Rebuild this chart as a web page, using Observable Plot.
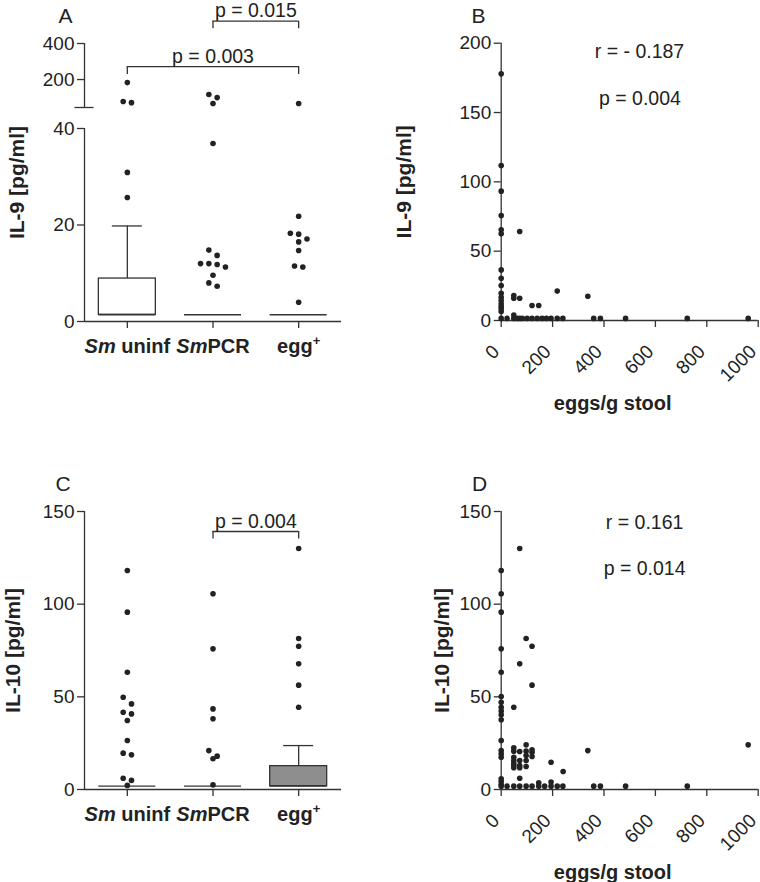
<!DOCTYPE html>
<html><head><meta charset="utf-8">
<script src="https://cdn.jsdelivr.net/npm/d3@7"></script>
<script src="https://cdn.jsdelivr.net/npm/@observablehq/plot@0.6"></script>
<style>
body{margin:0;background:#fff;}
#fig{position:relative;width:760px;height:882px;overflow:hidden;}
.panel{position:absolute;}
.panel svg{overflow:visible;}
</style></head><body><div id="fig"></div>
<script>
// ---------------- data ----------------
const groups = ["Sm uninf", "SmPCR", "egg+"];

// Panel A: IL-9 [pg/ml] per group (broken axis 0–40 | 45–400)
const il9Uninf = [183, 78, 72, 30.9, 25.7];
const il9PCR = [117, 100, 67, 36.9, 14.8, 13.7, 12.0, 12.0, 11.8, 11.3, 9.6, 8.0, 7.3];
const il9Egg = [67, 21.8, 18.3, 18.1, 17.1, 16.5, 14.7, 11.5, 11.3, 4.0];
const il9BoxLow = [1.4, 1.4, 1.4];
const il9BoxMedian = [1.4, 1.4, 1.4];
const il9BoxHigh = [8.9, 1.4, 1.4];
const il9WhiskerHigh = [19.8, null, null];
const il9Domain = [0, 40, 45, 400];
const il9Ticks = [0, 20, 40, 200, 400];
const il9BracketFrom = [1, 0];
const il9BracketTo = [2, 2];
const il9BracketLevel = [524, 272];
const il9BracketFoot = [482, 228];
const il9BracketLabel = ["p = 0.015", "p = 0.003"];

// Panel C: IL-10 [pg/ml] per group
const il10Uninf = [118.2, 95.7, 63.3, 49.8, 46.2, 41.7, 40.8, 37.2, 26.4, 19.6, 18.7, 6.1, 4.9, 2.2];
const il10PCR = [105.6, 75.9, 43.5, 38.2, 21.0, 18.0, 16.6, 2.5];
const il10Egg = [130, 81.5, 77.3, 67.8, 56.3, 44.4];
const il10BoxLow = [1.8, 1.8, 1.8];
const il10BoxMedian = [1.8, 1.8, 1.8];
const il10BoxHigh = [1.8, 1.8, 12.6];
const il10WhiskerHigh = [null, null, 23.7];
const il10Domain = [0, 150];
const il10Ticks = [0, 50, 100, 150];
const il10BracketFrom = [1];
const il10BracketTo = [2];
const il10BracketLevel = [139.2];
const il10BracketFoot = [135.2];
const il10BracketLabel = ["p = 0.004"];

// Panel B: IL-9 vs eggs/g stool
const eggsB = [0,0,0,0,0,0,0,0,0,0,0,0,0,0,0,0,0,
  72,72,49,49,49,120,146,218,337,
  23,49,62,72,82,101,120,140,159,176,194,218,240,360,386,484,724,961];
const il9B = [177.9,111.8,93.3,75.7,65.4,62.5,36.5,30.5,25.2,19.7,16.8,14.4,12.0,10.1,8.4,6.5,1.5,
  64.2,16,18,16,4,10.8,10.8,21.2,17.5,
  1.5,1.5,1.5,1.5,1.5,1.5,1.5,1.5,1.5,1.5,1.5,1.5,1.5,1.5,1.5,1.5,1.5,1.5];
const statsB = ["r = - 0.187", "p = 0.004"];
const statsBx = [538, 540];
const statsBy = [193.5, 160];

// Panel D: IL-10 vs eggs/g stool
const eggsD = [0,0,0,0,0,0,0,0,0,0,0,0,0,0,0,0,0,0,0,
  72,72,97,120,120,49,
  49,49,49,49,49,49,49,
  72,72,72,72,72,
  97,97,97,97,97,
  120,120,120,
  194,241,337,961,146,194,
  23,49,72,97,120,146,169,194,218,240,360,386,484,724];
const il10D = [118.2,105.6,95.7,75.9,63.3,50.2,47.1,44.4,42.3,40.3,37.6,26.4,21.0,19.2,17.4,5.8,4.3,2.7,1.8,
  130,67.8,81.5,77.3,56.3,44.4,
  22.5,20.7,17.4,15.6,14.2,12.9,11.7,
  20.5,15.6,12.9,11.7,6.1,
  24.1,20.7,18.3,15.6,12.4,
  21.4,20.1,17.8,
  14.7,9.7,21.0,24.1,3.6,4.0,
  1.8,1.8,1.8,1.8,1.8,1.8,1.8,1.8,1.8,1.8,1.8,1.8,1.8,1.8];
const statsD = ["r = 0.161", "p = 0.014"];
const statsDx = [558, 558];
const statsDy = [144, 119];

const eggTicks = [0, 200, 400, 600, 800, 1000];
const eggDomain = [0, 1000];
const il9BDomain = [0, 200];
const il9BTicks = [0, 50, 100, 150, 200];

// ---------------- style ----------------
const FONT = '"Liberation Sans", Arial, Helvetica, sans-serif';
const INK = "#222";
const LINE = "#333";
const TICK_FS = 19, TITLE_FS = 21, XTITLE_FS = 20, TEXT_FS = 19.5, LETTER_FS = 21;
const DOT_R = 2.8;

// ---------------- helpers ----------------
function swarm(values, yScale, gi, pxPerUnit) {
  const pts = values.map(v => ({v, py: yScale(v)})).sort((a, b) => a.py - b.py);
  const rows = [];
  for (const p of pts) {
    const row = rows[rows.length - 1];
    if (row && p.py - row[0].py <= 7) row.push(p); else rows.push([p]);
  }
  const out = [];
  for (const row of rows) row.forEach((p, k) => out.push({g: gi, value: p.v, x: gi + (k - (row.length - 1) / 2) * 8.3 / pxPerUnit}));
  return out;
}

function styleGroupLabels(svg) {
  const NS = "http://www.w3.org/2000/svg";
  svg.querySelectorAll("text").forEach(t => {
    const s = t.textContent;
    if (!groups.includes(s)) return;
    t.textContent = "";
    const add = (txt, attrs = {}) => {
      const ts = document.createElementNS(NS, "tspan");
      ts.textContent = txt;
      for (const k in attrs) ts.setAttribute(k, attrs[k]);
      t.appendChild(ts);
    };
    if (s.startsWith("Sm")) { add("Sm", {"font-style": "italic"}); add(s.slice(2)); }
    else if (s.endsWith("+")) { add(s.slice(0, -1)); add("+", {"font-size": "13px", dy: "-8"}); }
    else add(s);
  });
}

function place(node, left, top) {
  const div = document.createElement("div");
  div.className = "panel";
  div.style.left = left + "px";
  div.style.top = top + "px";
  div.appendChild(node);
  document.getElementById("fig").appendChild(div);
}

function groupPanel(o) {
  const W = 380, mL = 84, mR = 39;
  const xDom = [-0.5, groups.length - 0.5];
  const pxPerUnit = (W - mL - mR) / groups.length;
  const yScale = d3.scaleLinear().domain(o.yDomain).range(o.yRange);
  const dots = [];
  o.values.forEach((vals, gi) => dots.push(...swarm(vals, yScale, gi, pxPerUnit)));
  const boxes = groups.map((g, i) => ({i, low: o.boxLow[i], med: o.boxMedian[i], high: o.boxHigh[i], wh: o.whisker[i]}));
  const boxHalf = 28.5 / pxPerUnit, capHalf = 15 / pxPerUnit;
  const brackets = o.bFrom.map((f, i) => ({from: f, to: o.bTo[i], level: o.bLevel[i], foot: o.bFoot[i], label: o.bLabel[i]}));
  const segs = [];
  for (let k = 0; k + 1 < o.yDomain.length; k += 2) segs.push({y1: o.yDomain[k], y2: o.yDomain[k + 1]});
  const breaks = o.yDomain.length > 2 ? [o.yDomain[2]] : [];
  const svg = Plot.plot({
    width: W, height: o.height,
    marginLeft: mL, marginRight: mR, marginTop: o.yRange[o.yRange.length - 1], marginBottom: o.height - o.yRange[0],
    style: {fontFamily: FONT, fontSize: TICK_FS + "px", color: INK, background: "transparent", overflow: "visible"},
    x: {type: "linear", domain: xDom, axis: null},
    y: {type: "linear", domain: o.yDomain, range: o.yRange, axis: null},
    marks: [
      Plot.ruleX(segs, {x: () => xDom[0], y1: "y1", y2: "y2", stroke: LINE, strokeWidth: 1.3}),
      Plot.ruleY(breaks, {x1: xDom[0], x2: xDom[0], insetLeft: -9.5, insetRight: -9.5, stroke: LINE, strokeWidth: 1.3}),
      Plot.ruleY([o.yDomain[0]], {x1: xDom[0], x2: xDom[1], stroke: LINE, strokeWidth: 1.3}),
      Plot.axisY({ticks: o.yTicks, tickSize: 7, tickPadding: 3, label: null, fontSize: TICK_FS, stroke: LINE, strokeWidth: 1.3}),
      Plot.axisX({ticks: groups.map((g, i) => i), tickSize: 7, tickFormat: () => "", label: null, stroke: LINE, strokeWidth: 1.3}),
      Plot.text(groups, {x: (d, i) => i, y: () => o.yDomain[0], dy: 25, textAnchor: "middle", lineAnchor: "middle", fontWeight: "bold", fontSize: XTITLE_FS, fill: INK}),
      Plot.rect(boxes.filter(d => d.high > d.low), {x1: d => d.i - boxHalf, x2: d => d.i + boxHalf, y1: "low", y2: "high", fill: o.boxFill, stroke: LINE, strokeWidth: 1.3}),
      Plot.ruleY(boxes, {y: "med", x1: d => d.i - boxHalf, x2: d => d.i + boxHalf, stroke: LINE, strokeWidth: 1.3}),
      Plot.ruleX(boxes.filter(d => d.wh != null), {x: "i", y1: "high", y2: "wh", stroke: LINE, strokeWidth: 1.3}),
      Plot.ruleY(boxes.filter(d => d.wh != null), {y: "wh", x1: d => d.i - capHalf, x2: d => d.i + capHalf, stroke: LINE, strokeWidth: 1.3}),
      Plot.dot(dots, {x: "x", y: "value", r: DOT_R, fill: INK, stroke: "none"}),
      Plot.ruleY(brackets, {y: "level", x1: "from", x2: "to", stroke: LINE, strokeWidth: 1.3}),
      Plot.ruleX(brackets, {x: "from", y1: "level", y2: "foot", stroke: LINE, strokeWidth: 1.3}),
      Plot.ruleX(brackets, {x: "to", y1: "level", y2: "foot", stroke: LINE, strokeWidth: 1.3}),
      Plot.text(brackets, {x: d => (d.from + d.to) / 2, y: "level", text: "label", dy: -10, textAnchor: "middle", lineAnchor: "middle", fontSize: TEXT_FS, fill: INK}),
      Plot.text([o.title], {frameAnchor: "left", rotate: -90, dx: o.titleDx, textAnchor: "middle", lineAnchor: "middle", fontWeight: "bold", fontSize: TITLE_FS, fill: INK}),
      Plot.text([o.letter], {frameAnchor: "top-left", dx: o.letterDx, dy: o.letterDy, textAnchor: "middle", lineAnchor: "middle", fontSize: LETTER_FS, fill: INK})
    ]
  });
  styleGroupLabels(svg);
  place(svg, o.left, o.top);
}

function scatterPanel(o) {
  const W = 380, mL = 120.7, mR = 2.3;
  const pts = o.xs.map((x, i) => ({x, y: o.ys[i]}));
  const stats = o.stats.map((s, i) => ({s, x: o.sx[i], y: o.sy[i]}));
  const svg = Plot.plot({
    width: W, height: o.height,
    marginLeft: mL, marginRight: mR, marginTop: o.mTop, marginBottom: o.mBottom,
    style: {fontFamily: FONT, fontSize: TICK_FS + "px", color: INK, background: "transparent", overflow: "visible"},
    x: {type: "linear", domain: eggDomain, axis: null},
    y: {type: "linear", domain: o.yDomain, axis: null},
    marks: [
      Plot.ruleX([eggDomain[0]], {y1: o.yDomain[0], y2: o.yDomain[1], stroke: LINE, strokeWidth: 1.3}),
      Plot.ruleY([o.yDomain[0]], {x1: eggDomain[0], x2: eggDomain[1], stroke: LINE, strokeWidth: 1.3}),
      Plot.axisY({ticks: o.yTicks, tickSize: 7, tickPadding: 3, label: null, fontSize: TICK_FS, stroke: LINE, strokeWidth: 1.3}),
      Plot.axisX({ticks: eggTicks, tickSize: 7, tickFormat: () => "", label: null, stroke: LINE, strokeWidth: 1.3}),
      Plot.text(eggTicks, {x: d => d, y: () => o.yDomain[0], text: d => String(d), rotate: -45, textAnchor: "end", lineAnchor: "middle", dx: -5, dy: 28, fontSize: TICK_FS, fill: INK}),
      Plot.dot(pts, {x: "x", y: "y", r: DOT_R, fill: INK, stroke: "none"}),
      Plot.text(stats, {x: "x", y: "y", text: "s", textAnchor: "middle", lineAnchor: "middle", fontSize: TEXT_FS, fill: INK}),
      Plot.text([o.title], {frameAnchor: "left", rotate: -90, dx: o.titleDx, textAnchor: "middle", lineAnchor: "middle", fontWeight: "bold", fontSize: TITLE_FS, fill: INK}),
      Plot.text(["eggs/g stool"], {frameAnchor: "bottom", dx: -17, dy: 83, textAnchor: "middle", lineAnchor: "middle", fontWeight: "bold", fontSize: XTITLE_FS, fill: INK}),
      Plot.text([o.letter], {frameAnchor: "top-left", dx: o.letterDx, dy: o.letterDy, textAnchor: "middle", lineAnchor: "middle", fontSize: LETTER_FS, fill: INK})
    ]
  });
  place(svg, o.left, o.top);
}

// ---------------- panels ----------------
groupPanel({
  left: 0, top: 0, height: 440,
  yDomain: il9Domain, yRange: [321, 128, 107, 43], yTicks: il9Ticks,
  values: [il9Uninf, il9PCR, il9Egg],
  boxLow: il9BoxLow, boxMedian: il9BoxMedian, boxHigh: il9BoxHigh, whisker: il9WhiskerHigh, boxFill: "#fff",
  bFrom: il9BracketFrom, bTo: il9BracketTo, bLevel: il9BracketLevel, bFoot: il9BracketFoot, bLabel: il9BracketLabel,
  title: "IL-9 [pg/ml]", titleDx: -67, letter: "A", letterDx: -19, letterDy: -27.5
});
groupPanel({
  left: 0, top: 440, height: 442,
  yDomain: il10Domain, yRange: [349, 71], yTicks: il10Ticks,
  values: [il10Uninf, il10PCR, il10Egg],
  boxLow: il10BoxLow, boxMedian: il10BoxMedian, boxHigh: il10BoxHigh, whisker: il10WhiskerHigh, boxFill: "#8e8e8e",
  bFrom: il10BracketFrom, bTo: il10BracketTo, bLevel: il10BracketLevel, bFoot: il10BracketFoot, bLabel: il10BracketLabel,
  title: "IL-10 [pg/ml]", titleDx: -71, letter: "C", letterDx: -21.5, letterDy: -27.7
});
scatterPanel({
  left: 380, top: 0, height: 440, mTop: 42.7, mBottom: 120,
  xs: eggsB, ys: il9B, yDomain: il9BDomain, yTicks: il9BTicks,
  stats: statsB, sx: statsBx, sy: statsBy,
  title: "IL-9 [pg/ml]", titleDx: -96.7, letter: "B", letterDx: -22.7, letterDy: -26.7
});
scatterPanel({
  left: 380, top: 440, height: 442, mTop: 71, mBottom: 93,
  xs: eggsD, ys: il10D, yDomain: il10Domain, yTicks: il10Ticks,
  stats: statsD, sx: statsDx, sy: statsDy,
  title: "IL-10 [pg/ml]", titleDx: -58.7, letter: "D", letterDx: -21.7, letterDy: -27.7
});
</script></body></html>
